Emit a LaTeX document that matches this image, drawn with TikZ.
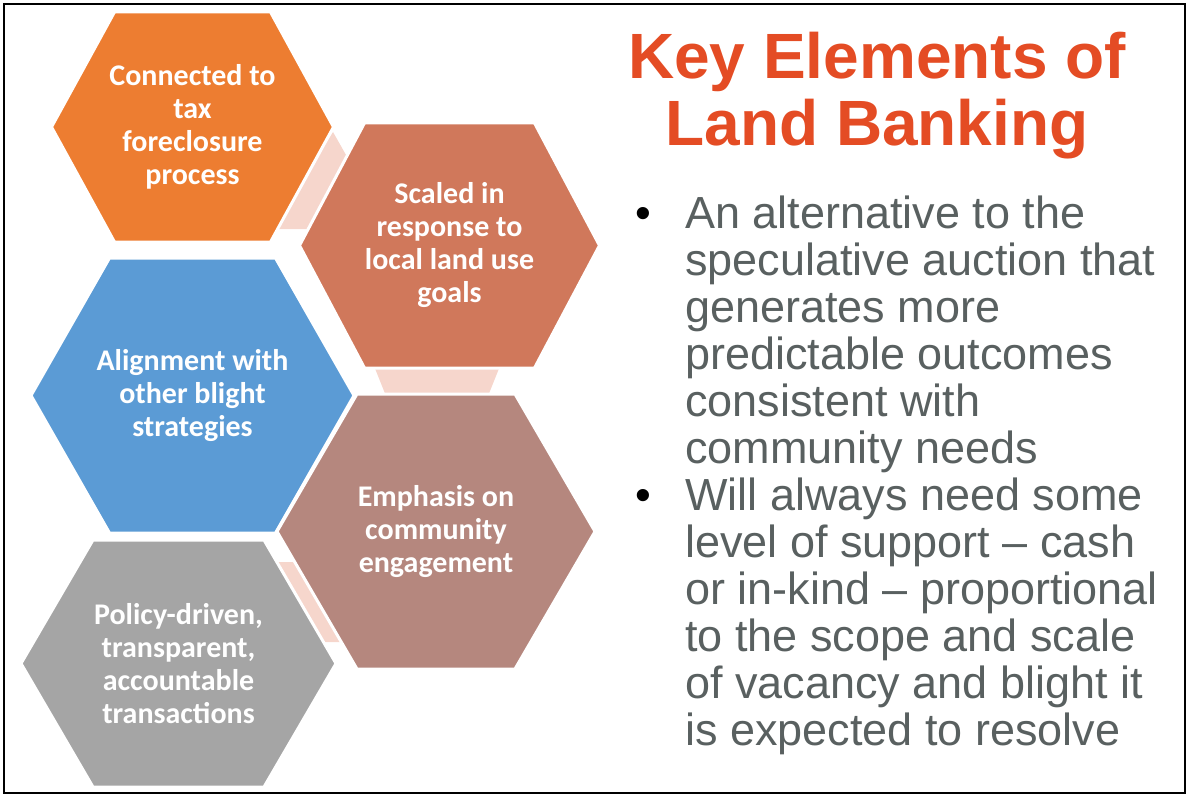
\documentclass[tikz,border=0pt]{standalone}
\usepackage{fontspec}
\setmainfont{Liberation Sans}
\newfontfamily\hexfont{Carlito}
\usepackage{tikz}
\usetikzlibrary{positioning}
\definecolor{hex-orange}{RGB}{237,125,49}
\definecolor{hex-rust}{RGB}{208,120,91}
\definecolor{hex-blue}{RGB}{91,155,213}
\definecolor{hex-mauve}{RGB}{181,135,126}
\definecolor{hex-grey}{RGB}{165,165,165}
\definecolor{link-pink}{RGB}{246,214,204}
\definecolor{title-red}{RGB}{228,76,36}
\definecolor{body-grey}{RGB}{89,96,96}

\begin{document}
\begin{tikzpicture}[x=1pt,y=-1pt,
hexcell/.style={draw=white, line width=3pt, line join=miter},
hexlabel/.style={text=white, align=center, inner sep=0pt,
  font=\hexfont\bfseries\fontsize{30}{33}\selectfont},
link/.style={fill=link-pink},
titletext/.style={text=title-red, align=center, inner sep=0pt,
  font=\bfseries\fontsize{64}{67}\selectfont},
pointtext/.style={text=body-grey, align=left, inner sep=0pt,
  font=\fontsize{45}{47}\selectfont},
bulletmark/.style={text=black, inner sep=0pt, font=\fontsize{45}{47}\selectfont}]
\useasboundingbox (0,0) rectangle (1189,797);

% centres of the five cells
\coordinate (a) at (192.5,127);
\coordinate (b) at (449.5,245.5);
\coordinate (c) at (192.5,395.5);
\coordinate (d) at (436,531.5);
\coordinate (e) at (178.5,663.5);

% pale links between neighbouring cells
\fill[link] (333,132) -- (350,162) -- (312,229) -- (272,229) -- cycle;
\fill[link] (374,366) -- (500,366) -- (488,396) -- (386,396) -- cycle;
\fill[link] (272,562) -- (300,562) -- (347,642) -- (318,642) -- cycle;

% cells
\filldraw[hexcell, fill=hex-orange] (a) ++(-141,0) -- ++(63,-115) -- ++(156,0)
  -- ++(63,115) -- ++(-63,115) -- ++(-156,0) -- cycle;
\filldraw[hexcell, fill=hex-rust] (b) ++(-150,0) -- ++(65,-122.5) -- ++(170,0)
  -- ++(65,122.5) -- ++(-65,122.5) -- ++(-170,0) -- cycle;
\filldraw[hexcell, fill=hex-blue] (c) ++(-161.5,0) -- ++(78.5,-137.5) -- ++(166,0)
  -- ++(78.5,137.5) -- ++(-78.5,137.5) -- ++(-166,0) -- cycle;
\filldraw[hexcell, fill=hex-mauve] (d) ++(-159,0) -- ++(80,-137.5) -- ++(158,0)
  -- ++(80,137.5) -- ++(-80,137.5) -- ++(-158,0) -- cycle;
\filldraw[hexcell, fill=hex-grey] (e) ++(-157.5,0) -- ++(72,-123.5) -- ++(171,0)
  -- ++(72,123.5) -- ++(-72,123.5) -- ++(-171,0) -- cycle;

\node[hexlabel] (taxlink) at (a) {Connected to\\tax\\foreclosure\\process};
\node[hexlabel] (scaled) at (b) {Scaled in\\response to\\local land use\\goals};
\node[hexlabel] (align) at (c) {Alignment with\\other blight\\strategies};
\node[hexlabel] (engage) at (d) {Emphasis on\\community\\engagement};
\node[hexlabel] (policy) at (e) {Policy-driven,\\transparent,\\accountable\\transactions};

% heading and points (base = last line)
\node[titletext, anchor=base] (title) at (877,146) {Key Elements of\\Land Banking};

\node[pointtext, anchor=base west] (alternative) at (685,463)
{An alternative to the\\speculative auction that\\generates more\\predictable outcomes\\consistent with\\community needs};
\node[bulletmark, anchor=base] (dot1) at (643,228) {\textbullet};

\node[pointtext, anchor=base west] (support) at (685,745)
{Will always need some\\level of support -- cash\\or in-kind -- proportional\\to the scope and scale\\of vacancy and blight it\\is expected to resolve};
\node[bulletmark, anchor=base] (dot2) at (643,510) {\textbullet};

\draw[line width=2.5pt] (4,4) rectangle (1185,793);
\end{tikzpicture}
\end{document}
